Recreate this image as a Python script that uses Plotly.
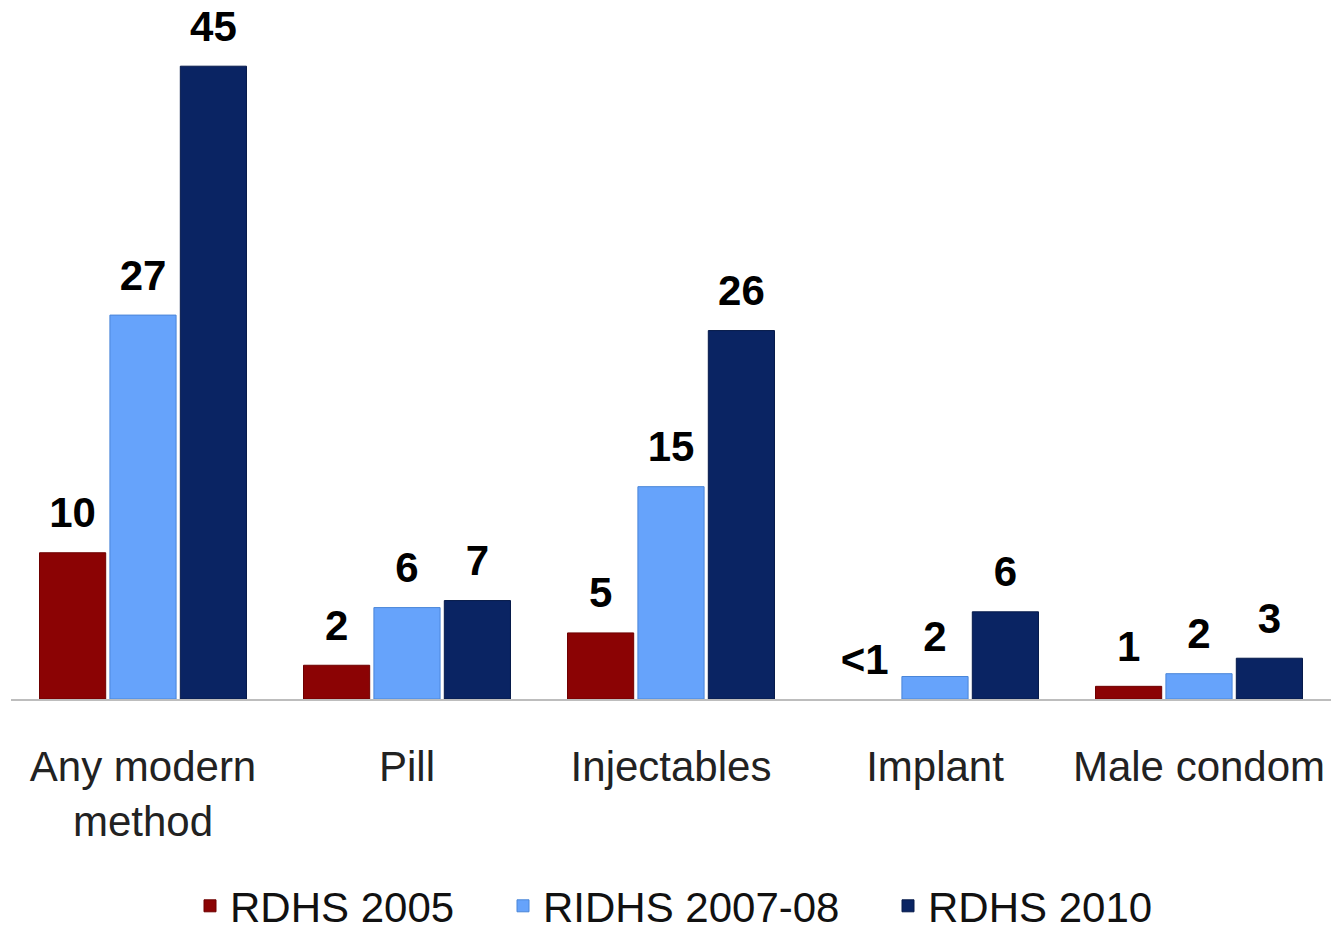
import plotly.graph_objects as go

categories = ["Any modern<br>method", "Pill", "Injectables", "Implant", "Male condom"]
series_names = ["RDHS 2005", "RIDHS 2007-08", "RDHS 2010"]
values_2005 = [10.4, 2.4, 4.7, 0.0, 0.9]
values_2007 = [27.3, 6.5, 15.1, 1.6, 1.8]
values_2010 = [45.0, 7.0, 26.2, 6.2, 2.9]
labels_2005 = ["10", "2", "5", "<1", "1"]
labels_2007 = ["27", "6", "15", "2", "2"]
labels_2010 = ["45", "7", "26", "6", "3"]
colors = ["#8b0304", "#66a3fb", "#0a2463"]
line_colors = ["#6e0000", "#4a86d8", "#061a4a"]
legend_text_x = [232, 545, 930]

FONT = "Liberation Sans, Arial, sans-serif"
W, H = 1331, 930

fig = go.Figure()
for i, (name, vals, labs, c, lc) in enumerate(zip(series_names,
                                   [values_2005, values_2007, values_2010],
                                   [labels_2005, labels_2007, labels_2010],
                                   colors, line_colors)):
    lw = [0 if v == 0 else 1 for v in vals]
    fig.add_trace(go.Bar(
        x=categories, y=vals, name=name, text=labs,
        texttemplate="<span style='font-size:42px'>%{text}</span><br>&nbsp;",
        textposition="outside", cliponaxis=False,
        textfont=dict(family=FONT, size=15, color="black", weight="bold"),
        marker=dict(color=c, line=dict(color=lc, width=lw)),
        legend="legend" if i == 0 else f"legend{i+1}",
    ))

legend_common = dict(orientation="h", xref="container", yref="container",
                     xanchor="left", yanchor="middle", y=1 - 906 / H,
                     font=dict(family=FONT, size=42, color="#111111"),
                     itemwidth=30, bgcolor="rgba(0,0,0,0)")

fig.update_layout(
    width=W, height=H, autosize=False,
    margin=dict(l=11, r=0, t=24, b=231),
    paper_bgcolor="white", plot_bgcolor="white",
    barmode="group", bargap=0.2, bargroupgap=0.06,
    font=dict(family=FONT, color="#222222"),
    showlegend=True,
    legend=dict(x=(legend_text_x[0] - 42) / W, **legend_common),
    legend2=dict(x=(legend_text_x[1] - 42) / W, **legend_common),
    legend3=dict(x=(legend_text_x[2] - 42) / W, **legend_common),
    xaxis=dict(showline=True, linecolor="#bdbdbd", linewidth=2, ticks="",
               automargin=False, ticklabelstandoff=30,
               tickfont=dict(family=FONT, size=42, color="#222222")),
    yaxis=dict(range=[0, 48], visible=False, showgrid=False, automargin=False),
)

fig.write_html("out.html", config={"responsive": False, "displayModeBar": False},
               post_script="document.body.style.margin='0';document.body.style.overflow='hidden';")
